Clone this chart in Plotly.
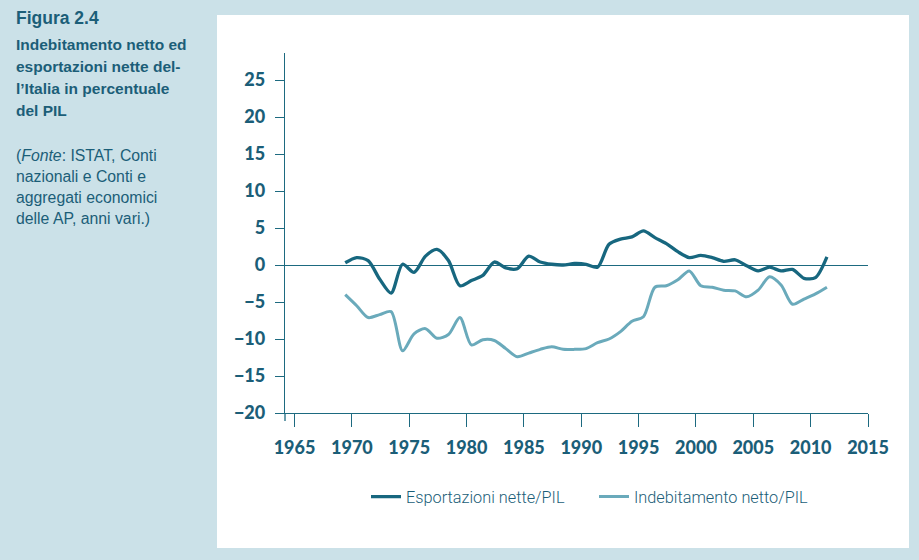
import plotly.graph_objects as go

years = list(range(1970, 2013))
esportazioni_nette = [0.3, 1.0, 0.6, -1.9, -3.8, 0.1, -1.0, 1.2, 2.1, 0.6,
                      -2.8, -2.1, -1.4, 0.4, -0.4, -0.5, 1.2, 0.4, 0.1, 0.0,
                      0.2, 0.1, -0.3, 2.8, 3.5, 3.8, 4.6, 3.7, 2.9, 1.8,
                      1.0, 1.3, 1.0, 0.5, 0.7, -0.1, -0.8, -0.3, -0.8, -0.6,
                      -1.8, -1.7, 1.1]
indebitamento_netto = [-4.0, -5.5, -7.1, -6.7, -6.3, -11.6, -9.3, -8.6, -9.9, -9.4,
                       -7.1, -10.8, -10.1, -10.2, -11.3, -12.4, -11.9, -11.4, -11.05, -11.4,
                       -11.4, -11.3, -10.5, -10.0, -9.0, -7.6, -7.0, -3.0, -2.8, -2.0,
                       -0.8, -2.8, -3.0, -3.4, -3.5, -4.3, -3.4, -1.6, -2.7, -5.3,
                       -4.6, -3.9, -3.0]
x_ticks = list(range(1965, 2016, 5))
y_ticks = list(range(-20, 26, 5))
series_names = ["Esportazioni nette/PIL", "Indebitamento netto/PIL"]

figure_label = "Figura 2.4"
title_lines = ["Indebitamento netto ed", "esportazioni nette del-",
               "l\u2019Italia in percentuale", "del PIL"]
source_lines = ["(<i>Fonte</i>: ISTAT, Conti", "nazionali e Conti e",
                "aggregati economici", "delle AP, anni vari.)"]

DARK = "#17677f"
LIGHT = "#6aaabb"
AXIS = "#1d6a80"
TEXT = "#1b5e78"
BG = "#cbe1e8"

W, H = 919, 560
L, R, T, B = 285, 51, 53, 147
PW, PH = W - L - R, H - T - B

def px_x(px):
    return (px - L) / PW

def px_y(py):
    return (H - B - py) / PH

fig = go.Figure()
# empty trace so that the visible tick axis (x) is drawn
fig.add_trace(go.Scatter(x=[], y=[], showlegend=False, hoverinfo="skip"))
fig.add_trace(go.Scatter(x=years, y=esportazioni_nette, name=series_names[0],
                         mode="lines", line=dict(color=DARK, width=3.3, shape="spline", smoothing=0.8),
                         xaxis="x2"))
fig.add_trace(go.Scatter(x=years, y=indebitamento_netto, name=series_names[1],
                         mode="lines", line=dict(color=LIGHT, width=3, shape="spline", smoothing=0.8),
                         xaxis="x2"))

shapes = [
    dict(type="rect", xref="paper", yref="paper", layer="below",
         x0=px_x(217), x1=px_x(909), y0=px_y(548), y1=px_y(15),
         fillcolor="white", line=dict(width=0)),
    dict(type="line", xref="paper", yref="paper",
         x0=0, x1=0, y0=0, y1=px_y(421), line=dict(color=AXIS, width=1.3)),
]

FONT = "Liberation Sans, Arial"
annotations = [dict(text="<b>" + figure_label + "</b>", x=px_x(14), y=px_y(18), xref="paper", yref="paper",
                    xanchor="left", yanchor="middle", showarrow=False,
                    font=dict(family=FONT, size=17.5, color=TEXT))]
for i, t in enumerate(title_lines):
    annotations.append(dict(text="<b>" + t + "</b>", x=px_x(14), y=px_y(44 + 22 * i), xref="paper", yref="paper",
                            xanchor="left", yanchor="middle", showarrow=False,
                            font=dict(family=FONT, size=15.5, color=TEXT)))
for i, t in enumerate(source_lines):
    annotations.append(dict(text=t, x=px_x(14), y=px_y(155 + 21 * i), xref="paper", yref="paper",
                            xanchor="left", yanchor="middle", showarrow=False,
                            font=dict(family=FONT, size=15.8, color=TEXT)))

tickfont = dict(family="Lato, DejaVu Sans", size=18, color=TEXT, weight=900)

fig.update_layout(
    width=W, height=H,
    margin=dict(l=L, r=R, t=T, b=B, pad=0),
    paper_bgcolor=BG, plot_bgcolor="rgba(0,0,0,0)",
    showlegend=True,
    legend=dict(orientation="h", x=px_x(594), xanchor="center", y=px_y(497), yanchor="middle",
                font=dict(family="Roboto", size=16.3, color=TEXT, weight=300),
                bgcolor="rgba(0,0,0,0)", itemwidth=30, traceorder="normal", entrywidth=183),
    xaxis=dict(range=[1964.17, 2015], tickvals=x_ticks, ticks="outside", ticklen=13, tickwidth=1.3,
               tickcolor=AXIS, showline=True, linecolor=AXIS, linewidth=1.3, showgrid=False,
               zeroline=False, tickfont=tickfont, ticklabelstandoff=5),
    xaxis2=dict(range=[1964.75, 2015.58], overlaying="x", visible=False),
    yaxis=dict(range=[-20, 28.65], tickvals=y_ticks, ticks="outside", ticklen=9, tickwidth=1.3,
               tickcolor=AXIS, showline=True, linecolor=AXIS, linewidth=1.3, showgrid=False,
               zeroline=True, zerolinecolor=AXIS, zerolinewidth=1.3, tickfont=tickfont,
               ticklabelstandoff=6),
    shapes=shapes, annotations=annotations,
)

fig.write_html("out.html", config={"displayModeBar": False},
               post_script="document.body.style.margin='0';document.body.style.background='%s';" % BG)
